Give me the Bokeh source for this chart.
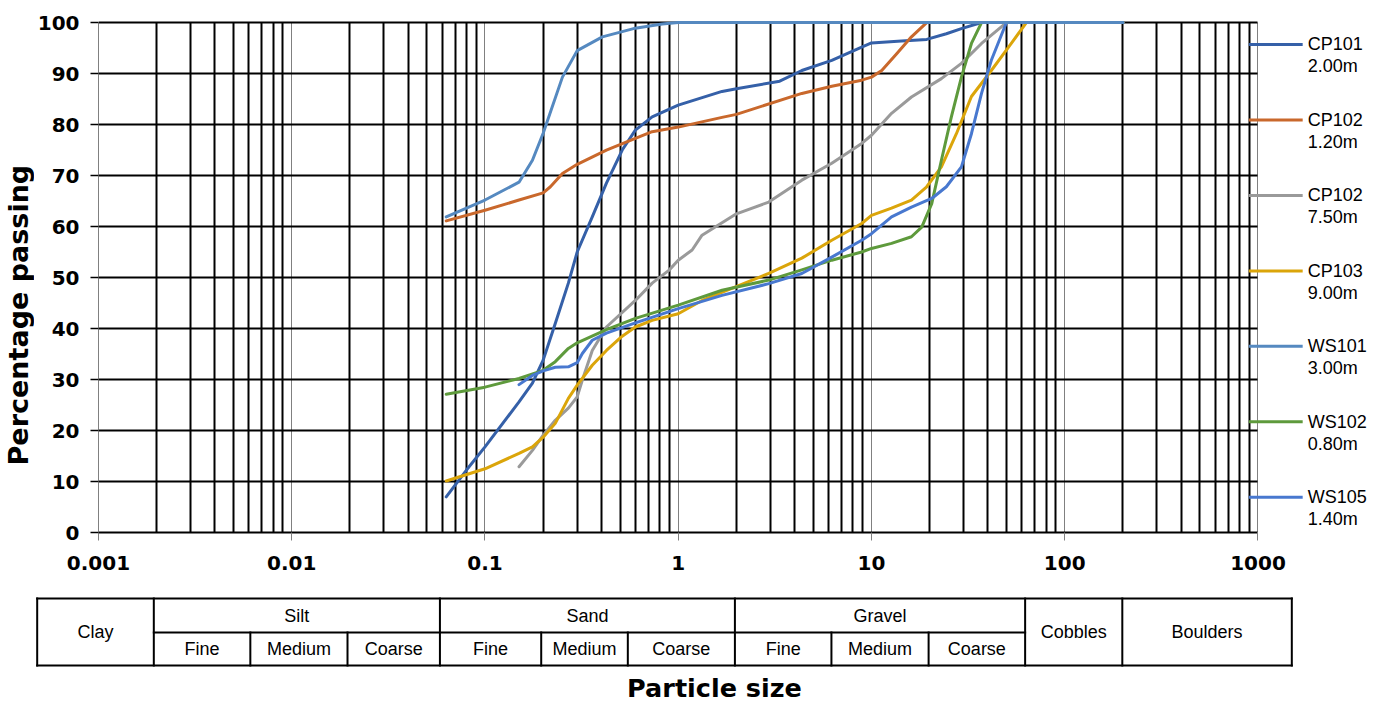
import math
from bokeh.plotting import figure
from bokeh.layouts import column, row
from bokeh.models import Range1d, FixedTicker, Grid
from bokeh.core.properties import value
from bokeh.embed import file_html
from bokeh.resources import INLINE

# ---------------- data ----------------
series_names = ["CP101", "CP102", "CP102", "CP103", "WS101", "WS102", "WS105"]
series_depths = ["2.00m", "1.20m", "7.50m", "9.00m", "3.00m", "0.80m", "1.40m"]
series_colors = ["#3560A8", "#C9682C", "#9A9A9A", "#DBA50A", "#5589C0", "#5E9A3C", "#4878CF"]

cp101_size = [0.063, 0.08, 0.1, 0.15, 0.176, 0.2, 0.231, 0.27, 0.3, 0.359, 0.425, 0.513, 0.6, 0.733, 1.0,
              1.685, 2.0, 3.35, 4.36, 6.23, 8.9, 10, 14.3, 19.3, 24.4, 29.2, 37.1, 200]
cp101_pass = [7.0, 12.2, 16.8, 25.6, 29.3, 33.8, 41.0, 48.9, 55.0, 61.9, 68.5, 75.0, 78.9, 81.5, 83.8,
              86.5, 87.0, 88.5, 90.6, 92.6, 95.2, 96.0, 96.4, 96.7, 97.8, 98.8, 100, 100]

cp102a_size = [0.063, 0.1, 0.15, 0.2, 0.218, 0.2516, 0.3, 0.425, 0.6, 0.733, 1.0, 1.685, 2.0, 4.36, 6.23,
               8.9, 10, 11.3, 13.5, 16.1, 19.3, 200]
cp102a_pass = [61.1, 63.2, 65.2, 66.6, 67.8, 70.4, 72.2, 75.0, 77.3, 78.6, 79.5, 81.4, 82.0, 86.1, 87.5,
               88.7, 89.3, 90.6, 93.9, 97.2, 100, 100]

cp102b_size = [0.15, 0.176, 0.2, 0.231, 0.27, 0.3, 0.319, 0.359, 0.425, 0.6, 0.733, 0.894, 1.0, 1.18, 1.328,
               2.0, 2.94, 4.36, 6.23, 8.9, 10, 12.7, 16.1, 23.0, 29.2, 37.1, 49.9, 200]
cp102b_pass = [12.9, 16.1, 19.1, 22.0, 24.4, 26.6, 29.9, 35.7, 40.3, 45.5, 48.9, 51.4, 53.4, 55.4, 58.3,
               62.5, 64.8, 69.1, 72.4, 76.3, 77.9, 82.2, 85.4, 89.0, 92.0, 95.9, 100, 100]

cp103_size = [0.063, 0.1, 0.15, 0.176, 0.2, 0.231, 0.27, 0.3, 0.359, 0.425, 0.513, 0.6, 0.733, 1.0, 1.328,
              2.94, 4.36, 6.23, 8.9, 10, 12.7, 16.1, 19.3, 23.0, 27.5, 32.9, 41.7, 52.9, 63.3, 200]
cp103_pass = [10.1, 12.5, 15.5, 16.8, 18.7, 21.4, 26.3, 28.9, 32.8, 35.7, 38.5, 40.3, 41.6, 42.9, 45.5,
              50.8, 53.8, 57.3, 60.6, 62.2, 63.6, 65.2, 67.8, 71.7, 78.2, 85.5, 90.6, 95.9, 100, 100]

ws101_size = [0.063, 0.1, 0.15, 0.176, 0.2, 0.2516, 0.3, 0.405, 0.6, 0.826, 1.0, 2.0, 200]
ws101_pass = [61.9, 65.2, 68.7, 73.0, 78.3, 89.3, 94.5, 97.2, 98.9, 99.7, 100, 100, 100]

ws102_size = [0.063, 0.1, 0.15, 0.2, 0.231, 0.27, 0.3, 0.425, 0.6, 1.0, 1.685, 2.94, 4.36, 6.23, 8.9, 10,
              12.7, 16.1, 18.2, 20.5, 23.0, 25.9, 29.2, 32.9, 37.1, 200]
ws102_pass = [27.1, 28.5, 30.2, 31.8, 33.5, 36.1, 37.2, 39.8, 42.0, 44.6, 47.5, 49.5, 51.5, 53.4, 55.0, 55.7,
              56.7, 58.0, 59.9, 64.5, 73.0, 81.5, 89.3, 95.9, 100, 100]

ws105_size = [0.15, 0.176, 0.2, 0.231, 0.27, 0.3, 0.319, 0.359, 0.425, 0.6, 1.0, 1.685, 2.94, 4.36, 6.23,
              8.9, 10, 12.7, 16.1, 20.5, 24.4, 29.2, 32.9, 37.1, 41.7, 49.9, 200]
ws105_pass = [29.0, 30.8, 31.7, 32.4, 32.5, 33.3, 35.1, 37.7, 39.1, 41.1, 43.9, 46.5, 48.8, 50.8, 54.0,
              57.3, 58.6, 61.9, 63.8, 65.5, 67.8, 71.7, 78.2, 86.1, 92.6, 100, 100]

series_sizes = [cp101_size, cp102a_size, cp102b_size, cp103_size, ws101_size, ws102_size, ws105_size]
series_pass = [cp101_pass, cp102a_pass, cp102b_pass, cp103_pass, ws101_pass, ws102_pass, ws105_pass]
draw_order = [0, 1, 2, 3, 5, 6, 4]

x_ticks = [0.001, 0.01, 0.1, 1, 10, 100, 1000]
x_tick_labels = ["0.001", "0.01", "0.1", "1", "10", "100", "1000"]
x_minor_ticks = [m * 10.0 ** e for e in range(-3, 3) for m in range(2, 10)]
y_ticks = [0, 10, 20, 30, 40, 50, 60, 70, 80, 90, 100]

fraction_names = ["Clay", "Silt", "Sand", "Gravel", "Cobbles", "Boulders"]
fraction_edges = [0.0005, 0.002, 0.06, 2, 63, 200, 1500]
sub_names = ["Fine", "Medium", "Coarse"]
silt_edges = [0.002, 0.0063, 0.02, 0.06]
sand_edges = [0.06, 0.2, 0.56, 2]
gravel_edges = [2, 6.3, 20, 63]

# ---------------- geometry ----------------
DEC = 193.7              # pixels per decade
PAGE_W = 1380
TITLE_W = 34
MAIN_H = 590
TAB_H = 113
LEFT = 95 - TITLE_W
FRAME_W = PAGE_W - TITLE_W - LEFT
X_MIN = 1e-3
X_MAX = 10 ** (-3 + FRAME_W / DEC)

def px_to_mm(px):  # page px -> particle size
    return 10 ** (-3 + (px - 95) / DEC)

BOLD = value("DejaVu Sans")
REG = value("Liberation Sans")

# ---------------- main chart ----------------
p = figure(width=PAGE_W - TITLE_W, height=MAIN_H, x_axis_type="log",
           x_range=Range1d(X_MIN, X_MAX), y_range=Range1d(0, 100.6),
           output_backend="svg", toolbar_location=None,
           min_border_left=LEFT, min_border_right=0, min_border_top=19, min_border_bottom=58)
p.outline_line_color = None
p.background_fill_color = "white"

xt = FixedTicker(ticks=x_ticks, minor_ticks=x_minor_ticks)
yt = FixedTicker(ticks=y_ticks, minor_ticks=[])
p.xaxis.ticker = xt
p.xgrid.ticker = xt
p.yaxis.ticker = yt
p.ygrid.ticker = yt

p.xgrid.grid_line_color = "#808080"
p.xgrid.grid_line_width = 1
p.xgrid.minor_grid_line_color = "black"
p.xgrid.minor_grid_line_width = 2
p.ygrid.grid_line_color = "black"
p.ygrid.grid_line_width = 2

if "cross_bounds" in Grid.properties():
    p.ygrid.cross_bounds = (X_MIN, 1000)
    p.xgrid.cross_bounds = (0, 100)
else:
    p.ygrid.grid_line_color = None
    p.segment(x0=[X_MIN] * len(y_ticks), y0=y_ticks, x1=[1000] * len(y_ticks), y1=y_ticks,
              line_color="black", line_width=2, level="underlay")

p.xaxis.bounds = (X_MIN, 1000)
p.xaxis.major_label_overrides = dict(zip(x_ticks, x_tick_labels))
p.xaxis.axis_line_color = "black"
p.xaxis.axis_line_width = 2
p.xaxis.major_tick_line_color = "#808080"
p.xaxis.major_tick_line_width = 1
p.xaxis.major_tick_out = 8
p.xaxis.major_tick_in = 0
p.xaxis.minor_tick_out = 0
p.xaxis.minor_tick_in = 0
p.xaxis.major_label_standoff = 15

p.yaxis.bounds = (0, 100)
p.yaxis.axis_line_color = "#808080"
p.yaxis.axis_line_width = 1
p.yaxis.major_tick_line_color = "black"
p.yaxis.major_tick_line_width = 1.5
p.yaxis.major_tick_out = 8
p.yaxis.major_tick_in = 0
p.yaxis.minor_tick_out = 0
p.yaxis.minor_tick_in = 0
p.yaxis.major_label_standoff = 11

for ax in (p.xaxis, p.yaxis):
    ax.major_label_text_font = "DejaVu Sans"
    ax.major_label_text_font_style = "bold"
    ax.major_label_text_font_size = "20px"
    ax.major_label_text_color = "black"

for i in draw_order:
    p.line(series_sizes[i], series_pass[i], line_color=series_colors[i], line_width=3,
           line_join="round", line_cap="round")

# legend (drawn manually, right side)
leg_top, leg_step, depth_gap = 95.7, 14.8, 4.3
leg_y = [leg_top - k * leg_step for k in range(len(series_names))]
lx0, lx1, ltx = px_to_mm(1248), px_to_mm(1302), px_to_mm(1307)
for k in range(len(series_names)):
    p.line([lx0, lx1], [leg_y[k], leg_y[k]], line_color=series_colors[k], line_width=3)
p.text(x=[ltx] * len(series_names), y=leg_y, text=series_names, text_font=REG,
       text_font_size="18px", text_baseline="middle", text_align="left", text_color="black")
p.text(x=[ltx] * len(series_names), y=[v - depth_gap for v in leg_y], text=series_depths,
       text_font=REG, text_font_size="18px", text_baseline="middle", text_align="left",
       text_color="black")

# ---------------- y title figure ----------------
tf = figure(width=TITLE_W, height=MAIN_H, x_range=Range1d(0, TITLE_W), y_range=Range1d(0, MAIN_H),
            output_backend="svg", toolbar_location=None, min_border=0,
            x_axis_location=None, y_axis_location=None)
tf.outline_line_color = None
tf.grid.visible = False
tf.text(x=[17.5], y=[MAIN_H - 340], text=["Percentage passing"], angle=math.pi / 2,
        text_align="center", text_baseline="alphabetic", text_font=BOLD, text_font_style="bold",
        text_font_size="27px", text_color="black")

# ---------------- classification table ----------------
tb = figure(width=PAGE_W, height=TAB_H, x_axis_type="log",
            x_range=Range1d(px_to_mm(0), px_to_mm(PAGE_W)), y_range=Range1d(0, TAB_H),
            output_backend="svg", toolbar_location=None, min_border=0,
            x_axis_location=None, y_axis_location=None)
tb.outline_line_color = None
tb.grid.visible = False

y_top, y_mid, y_bot = TAB_H - 8, TAB_H - 42, TAB_H - 75
x0s, y0s, x1s, y1s = [], [], [], []
for yy in (y_top, y_bot):
    x0s.append(fraction_edges[0]); x1s.append(fraction_edges[-1]); y0s.append(yy); y1s.append(yy)
x0s.append(silt_edges[0]); x1s.append(gravel_edges[-1]); y0s.append(y_mid); y1s.append(y_mid)
for e in fraction_edges:
    x0s.append(e); x1s.append(e); y0s.append(y_bot); y1s.append(y_top)
for edges in (silt_edges, sand_edges, gravel_edges):
    for e in edges[1:-1]:
        x0s.append(e); x1s.append(e); y0s.append(y_bot); y1s.append(y_mid)
tb.segment(x0=x0s, y0=y0s, x1=x1s, y1=y1s, line_color="black", line_width=2, line_cap="square")

def gmid(a, b):
    return math.sqrt(a * b)

tx, ty, tt = [], [], []
for k, name in enumerate(fraction_names):
    tx.append(gmid(fraction_edges[k], fraction_edges[k + 1]))
    tt.append(name)
    if name in ("Silt", "Sand", "Gravel"):
        ty.append((y_top + y_mid) / 2)
    else:
        ty.append((y_top + y_bot) / 2)
for edges in (silt_edges, sand_edges, gravel_edges):
    for k, name in enumerate(sub_names):
        tx.append(gmid(edges[k], edges[k + 1]))
        ty.append((y_mid + y_bot) / 2)
        tt.append(name)
tb.text(x=tx, y=ty, text=tt, text_font=REG, text_font_size="18px", text_align="center",
        text_baseline="middle", text_color="black")

tb.text(x=[px_to_mm(714)], y=[TAB_H - 97], text=["Particle size"], text_font=BOLD, text_font_style="bold",
        text_font_size="25.5px", text_align="center", text_baseline="middle", text_color="black")

layout = column(row(tf, p), tb)
open("out.html", "w").write(file_html(layout, INLINE))
